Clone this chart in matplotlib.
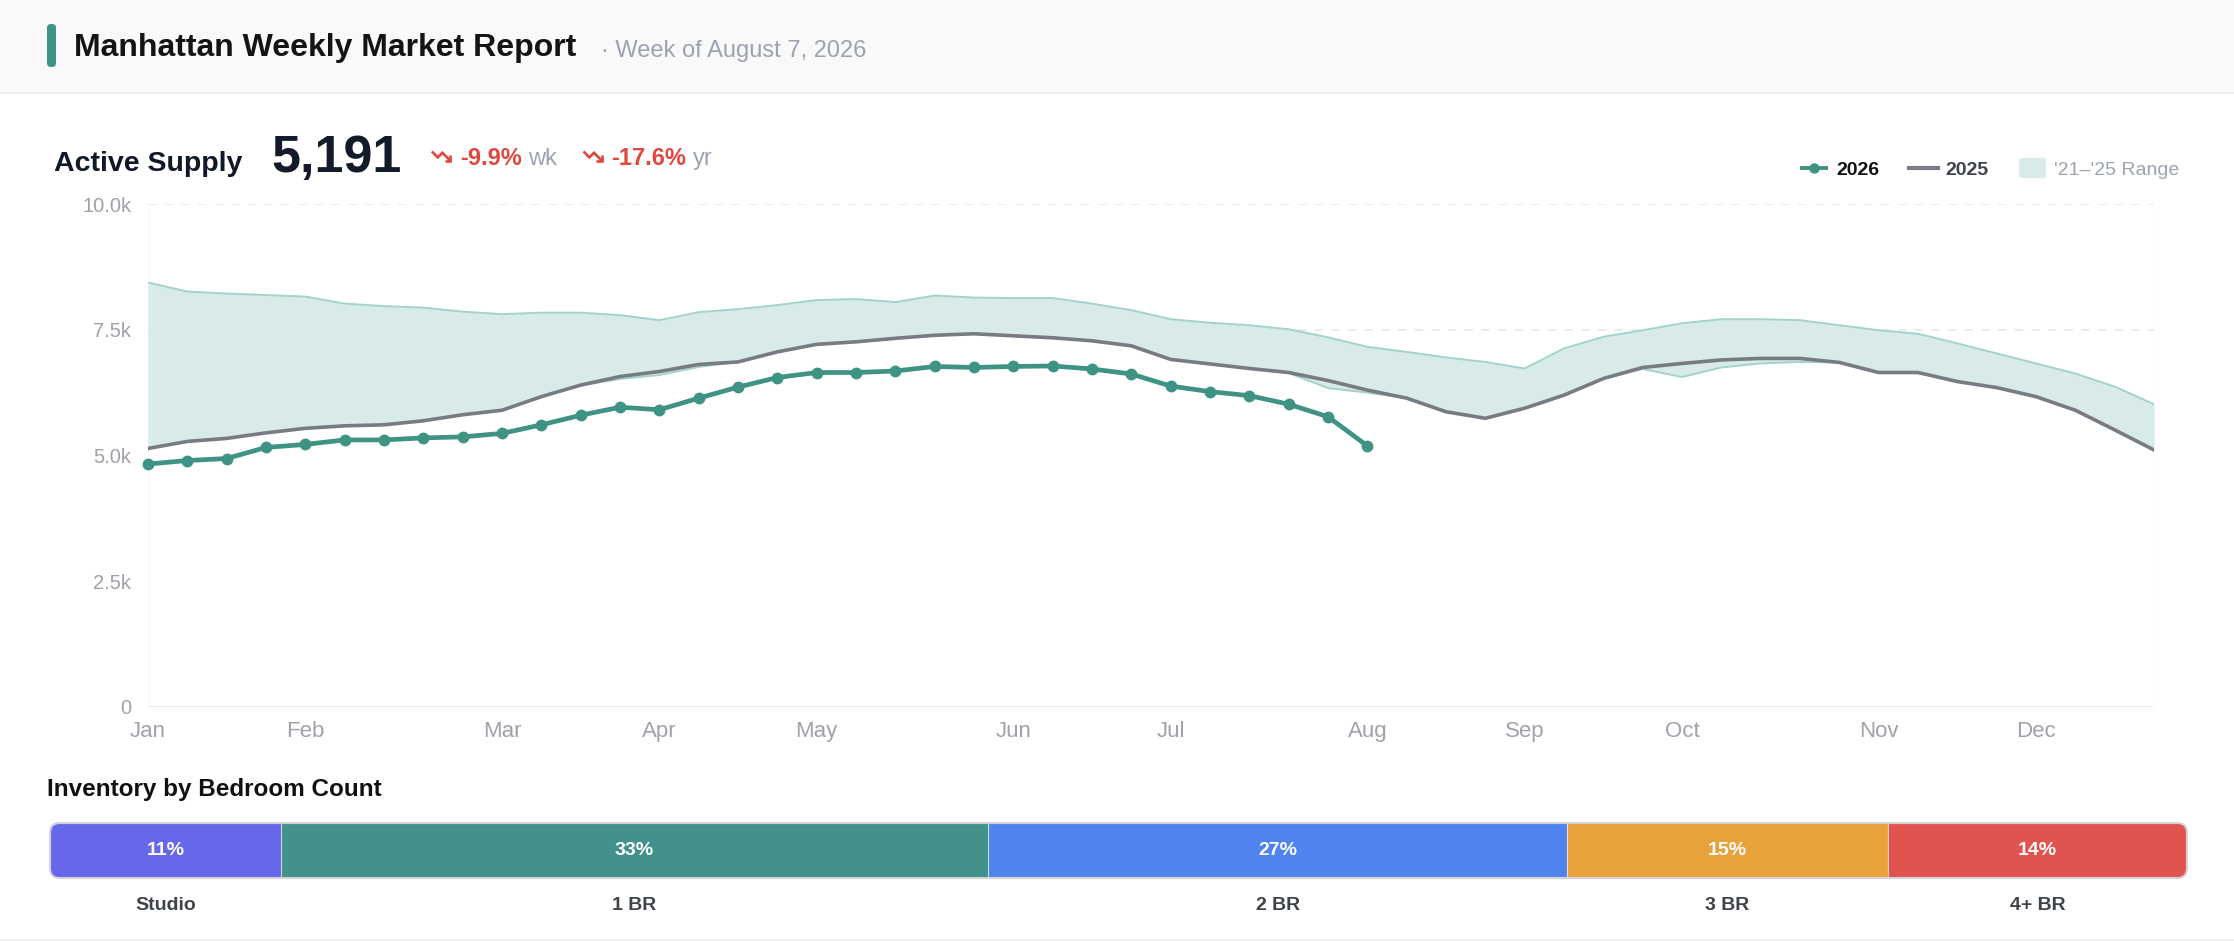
import matplotlib
matplotlib.use("Agg")
import matplotlib.pyplot as plt
import matplotlib.transforms as mtrans
import numpy as np
from matplotlib.patches import Rectangle, FancyBboxPatch
from matplotlib.lines import Line2D

plt.rcParams['font.family'] = ['Liberation Sans', 'DejaVu Sans']

W, H = 2234, 942

# weekly axis, Jan..Dec
weeks = np.arange(52)
month_ticks = [0, 4, 9, 13, 17, 22, 26, 31, 35, 39, 44, 48]
month_labels = ['Jan', 'Feb', 'Mar', 'Apr', 'May', 'Jun', 'Jul', 'Aug', 'Sep', 'Oct', 'Nov', 'Dec']

supply_2026 = [4830, 4900, 4940, 5160, 5220, 5310, 5310, 5350, 5370, 5440, 5610, 5800,
               5960, 5910, 6140, 6360, 6550, 6650, 6650, 6680, 6770, 6750, 6770, 6780,
               6720, 6620, 6380, 6270, 6190, 6020, 5770, 5191]
supply_2025 = [5140, 5280, 5340, 5450, 5540, 5590, 5610, 5690, 5810, 5900, 6170, 6400,
               6570, 6670, 6810, 6860, 7060, 7210, 7260, 7330, 7390, 7420, 7380, 7340,
               7280, 7180, 6910, 6820, 6730, 6650, 6490, 6300, 6140, 5870, 5740, 5940,
               6200, 6530, 6750, 6830, 6900, 6930, 6930, 6850, 6650, 6650, 6470, 6350,
               6170, 5900, 5510, 5110]
range_hi = [8440, 8260, 8220, 8190, 8160, 8020, 7970, 7940, 7860, 7810, 7840, 7840,
            7790, 7690, 7850, 7910, 7990, 8090, 8110, 8050, 8180, 8140, 8130, 8130,
            8020, 7890, 7710, 7640, 7590, 7510, 7350, 7160, 7060, 6950, 6860, 6730,
            7130, 7360, 7490, 7630, 7710, 7710, 7690, 7590, 7490, 7420, 7230, 7030,
            6830, 6630, 6370, 6020]
range_lo = [5140, 5280, 5340, 5450, 5540, 5590, 5610, 5690, 5810, 5900, 6170, 6390,
            6520, 6600, 6760, 6860, 7060, 7210, 7260, 7330, 7390, 7420, 7380, 7340,
            7280, 7180, 6910, 6820, 6730, 6640, 6340, 6250, 6140, 5870, 5740, 5940,
            6200, 6530, 6720, 6560, 6750, 6830, 6860, 6850, 6650, 6650, 6470, 6350,
            6170, 5900, 5510, 5110]

bed_labels = ['Studio', '1 BR', '2 BR', '3 BR', '4+ BR']
bed_share = [10.8, 33.1, 27.1, 15.0, 14.0]
bed_colors = ['#6767e9', '#42918a', '#4f84ef', '#e8a23b', '#e0534f']

TEAL = '#3f9384'
GRAY_TXT = '#9ca3af'
RED = '#e0483e'

fig = plt.figure(figsize=(W / 100, H / 100), dpi=100)
fig.patch.set_facecolor('white')
PX = mtrans.IdentityTransform()


def fy(y):
    # pixel y from top -> display y
    return H - y


# header band
fig.add_artist(Rectangle((0, fy(93)), W, 93, transform=PX, facecolor='#f9f9f9',
                         edgecolor='none', zorder=0))
fig.add_artist(Line2D([0, W], [fy(93), fy(93)], transform=PX, color='#eeeeee', lw=1.2))
fig.add_artist(Line2D([0, W], [fy(940), fy(940)], transform=PX, color='#efefef', lw=1.2))
fig.add_artist(FancyBboxPatch((47, fy(67)), 9, 43, boxstyle='round,pad=0,rounding_size=4',
                              transform=PX, facecolor=TEAL, edgecolor='none'))

renderer = fig.canvas.get_renderer()


def put(x, y, s, **kw):
    t = fig.text(x, fy(y), s, transform=PX, va='baseline', **kw)
    return t, t.get_window_extent(renderer).x1


put(74, 56, 'Manhattan Weekly Market Report', fontsize=23, fontweight='bold', color='#141414')
put(601, 57, '· Week of August 7, 2026', fontsize=17, color=GRAY_TXT)

# KPI row
put(54, 171, 'Active Supply', fontsize=20.5, fontweight='bold', color='#111827')
put(271, 172, '5,191', fontsize=37.5, fontweight='bold', color='#131a2a')


def trend_down(x0, ytop, size=22):
    pts = np.array([[2, 7], [8.5, 13.5], [13.5, 8.5], [22, 17]])
    head = np.array([[16, 17], [22, 17], [22, 11]])
    s = size / 24.0
    for p in (pts, head):
        fig.add_artist(Line2D(x0 + p[:, 0] * s, fy(ytop + p[:, 1] * s), transform=PX,
                              color=RED, lw=1.9, solid_joinstyle='miter',
                              solid_capstyle='butt'))


x = 430
trend_down(x, 145)
_, x = put(x + 30, 165, '-9.9%', fontsize=17, fontweight='bold', color=RED)
_, x = put(x + 6, 165, 'wk', fontsize=17, color=GRAY_TXT)
x += 25
trend_down(x, 145)
_, x = put(x + 30, 165, '-17.6%', fontsize=17, fontweight='bold', color=RED)
put(x + 6, 165, 'yr', fontsize=17, color=GRAY_TXT)

# legend
ly = fy(168)
fig.add_artist(Line2D([1802, 1826], [ly, ly], transform=PX, color=TEAL, lw=2.8))
fig.add_artist(Line2D([1814], [ly], transform=PX, color=TEAL, marker='o', ms=6.5, lw=0))
put(1836, 175, '2026', fontsize=14, fontweight='bold', color='#111111')
fig.add_artist(Line2D([1909, 1938], [ly, ly], transform=PX, color='#7a7d85', lw=3))
put(1945, 175, '2025', fontsize=14, fontweight='bold', color='#3f434a')
fig.add_artist(FancyBboxPatch((2019, fy(178)), 27, 20, boxstyle='round,pad=0,rounding_size=2',
                              transform=PX, facecolor='#d8ebe8', edgecolor='none'))
put(2054, 175, "'21–'25 Range", fontsize=14, color=GRAY_TXT)

# main chart
ax = fig.add_axes([148 / W, 1 - 707 / H, (2154 - 148) / W, (707 - 204) / H])
ax.set_xlim(0, 51)
ax.set_ylim(0, 10000)
ax.fill_between(weeks, range_lo, range_hi, color='#d8ebe8', lw=0, zorder=1)
ax.plot(weeks, range_hi, color='#a3d3ca', lw=1.4, zorder=2)
ax.plot(weeks, range_lo, color='#a3d3ca', lw=1.4, zorder=2)
ax.plot(weeks, supply_2025, color='#787b82', lw=2.6, zorder=3, solid_joinstyle='round')
ax.plot(weeks[:len(supply_2026)], supply_2026, color=TEAL, lw=3.4, marker='o', ms=7.5,
        zorder=4, solid_joinstyle='round', clip_on=False)

ax.set_yticks([0, 2500, 5000, 7500, 10000])
ax.set_yticklabels(['0', '2.5k', '5.0k', '7.5k', '10.0k'])
ax.set_xticks(month_ticks)
ax.set_xticklabels(month_labels)
for gy in (7500, 10000):
    ax.axhline(gy, linestyle=(0, (5, 5)), color='#e8e8e8', lw=1.2, zorder=0.5)
ax.axhline(0, color='#e6e6e6', lw=1.8, zorder=1)
ax.axvline(0, color='#f8f8f8', lw=1, zorder=0.4)
ax.axvline(51, color='#f8f8f8', lw=1, zorder=0.4)
for sp in ax.spines.values():
    sp.set_visible(False)
ax.tick_params(axis='y', length=0, pad=12, labelsize=14.5, labelcolor='#a1a1aa')
ax.tick_params(axis='x', length=0, pad=10, labelsize=16, labelcolor='#a1a1aa')

# bedroom inventory
put(47, 796, 'Inventory by Bedroom Count', fontsize=17.5, fontweight='bold', color='#111111')

bax = fig.add_axes([50 / W, 1 - 878 / H, 2137 / W, 55 / H])
bax.set_xlim(0, sum(bed_share))
bax.set_ylim(0, 1)
bax.axis('off')
lefts = np.cumsum([0] + bed_share[:-1])
bars = bax.barh(0.5, bed_share, left=lefts, height=1, color=bed_colors,
                edgecolor='#ffffff80', lw=0.8)
total = sum(bed_share)
aspect = (2137 / total) / 55
clip = FancyBboxPatch((0, 0), total, 1, boxstyle='round,pad=0,rounding_size=0.45',
                      mutation_aspect=aspect, transform=bax.transData,
                      facecolor='none', edgecolor='none')
bax.add_patch(clip)
for b in bars:
    b.set_clip_path(clip)
outline = FancyBboxPatch((0, 0), total, 1, boxstyle='round,pad=0,rounding_size=0.45',
                         mutation_aspect=aspect, transform=bax.transData,
                         facecolor='none', edgecolor='#d4d4d8', lw=1.5, clip_on=False,
                         zorder=5)
bax.add_patch(outline)
for l, w, lab in zip(lefts, bed_share, bed_labels):
    bax.text(l + w / 2, 0.5, f'{round(w)}%', ha='center', va='center', fontsize=14,
             fontweight='bold', color='white', zorder=6)
    bax.text(l + w / 2, -0.5, lab, ha='center', va='center', fontsize=14,
             fontweight='bold', color='#3f434a', clip_on=False)

fig.savefig('out.png', dpi=100, facecolor='white')
